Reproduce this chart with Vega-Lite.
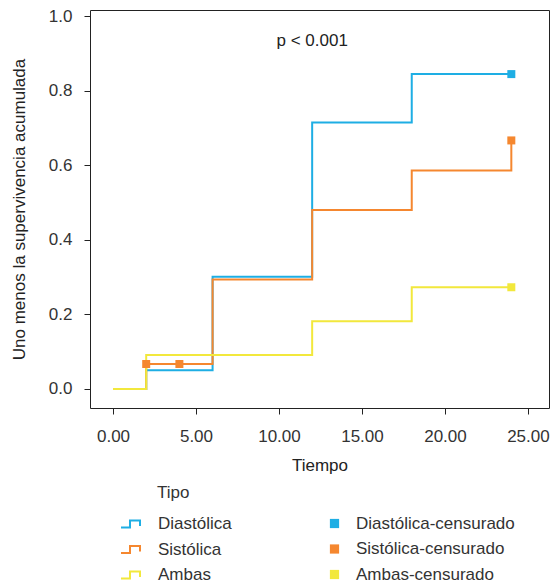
{
  "$schema": "https://vega.github.io/schema/vega-lite/v6.json",
  "width": 459,
  "height": 398,
  "autosize": {"type": "none"},
  "padding": {"left": 90, "top": 10, "right": 1, "bottom": 176},
  "background": "white",
  "config": {
    "font": "Liberation Sans",
    "view": {"stroke": "#222222", "strokeWidth": 1},
    "axis": {
      "grid": false,
      "domain": false,
      "tickColor": "#222222",
      "tickSize": 6,
      "labelFont": "Liberation Sans",
      "labelFontSize": 17,
      "labelColor": "#333333",
      "titleFont": "Liberation Sans",
      "titleFontSize": 17,
      "titleFontWeight": "normal",
      "titleColor": "#222222"
    },
    "legend": {
      "padding": 0,
      "labelFont": "Liberation Sans",
      "labelFontSize": 17,
      "labelColor": "#333333",
      "titleFont": "Liberation Sans",
      "titleFontSize": 17,
      "titleFontWeight": "normal",
      "titleColor": "#333333"
    }
  },
  "datasets": {
    "curvas": [
      {"tipo": "Diastólica", "tiempo": 0, "valor": 0},
      {"tipo": "Diastólica", "tiempo": 2, "valor": 0.05},
      {"tipo": "Diastólica", "tiempo": 6, "valor": 0.301},
      {"tipo": "Diastólica", "tiempo": 12, "valor": 0.715},
      {"tipo": "Diastólica", "tiempo": 18, "valor": 0.845},
      {"tipo": "Diastólica", "tiempo": 24, "valor": 0.845},
      {"tipo": "Sistólica", "tiempo": 0, "valor": 0},
      {"tipo": "Sistólica", "tiempo": 2, "valor": 0.067},
      {"tipo": "Sistólica", "tiempo": 4, "valor": 0.067},
      {"tipo": "Sistólica", "tiempo": 6, "valor": 0.294},
      {"tipo": "Sistólica", "tiempo": 12, "valor": 0.48},
      {"tipo": "Sistólica", "tiempo": 18, "valor": 0.586},
      {"tipo": "Sistólica", "tiempo": 24, "valor": 0.667},
      {"tipo": "Ambas", "tiempo": 0, "valor": 0},
      {"tipo": "Ambas", "tiempo": 2, "valor": 0.091},
      {"tipo": "Ambas", "tiempo": 12, "valor": 0.182},
      {"tipo": "Ambas", "tiempo": 18, "valor": 0.273},
      {"tipo": "Ambas", "tiempo": 24, "valor": 0.273}
    ],
    "censura": [
      {"grupo": "Diastólica-censurado", "tiempo": 24, "valor": 0.845},
      {"grupo": "Sistólica-censurado", "tiempo": 2, "valor": 0.067},
      {"grupo": "Sistólica-censurado", "tiempo": 4, "valor": 0.067},
      {"grupo": "Sistólica-censurado", "tiempo": 24, "valor": 0.667},
      {"grupo": "Ambas-censurado", "tiempo": 24, "valor": 0.273}
    ],
    "nota": [
      {"tiempo": 12, "valor": 0.934, "texto": "p < 0.001"}
    ]
  },
  "encoding": {
    "x": {
      "field": "tiempo",
      "type": "quantitative",
      "scale": {"domain": [-1.386, 26.27], "nice": false, "zero": false},
      "axis": {
        "values": [0, 5, 10, 15, 20, 25],
        "format": ".2f",
        "title": "Tiempo",
        "labelPadding": 14,
        "titlePadding": 13
      }
    },
    "y": {
      "field": "valor",
      "type": "quantitative",
      "scale": {"domain": [-0.051, 1.017], "nice": false, "zero": false},
      "axis": {
        "values": [0, 0.2, 0.4, 0.6, 0.8, 1.0],
        "format": ".1f",
        "title": "Uno menos la supervivencia acumulada",
        "labelPadding": 12,
        "titlePadding": 20
      }
    }
  },
  "layer": [
    {
      "data": {"name": "curvas"},
      "mark": {"type": "line", "interpolate": "step-after", "strokeWidth": 2},
      "encoding": {
        "stroke": {
          "field": "tipo",
          "type": "nominal",
          "sort": null,
          "scale": {
            "domain": ["Diastólica", "Sistólica", "Ambas"],
            "range": ["#1eaee4", "#f5872f", "#f2e83c"]
          },
          "legend": {
            "title": "Tipo",
            "orient": "none",
            "legendX": 30,
            "legendY": 475,
            "direction": "vertical",
            "symbolType": "M-1,0.35H-0.1V-0.35H0.9V0.2",
            "symbolSize": 400,
            "symbolStrokeWidth": 2,
            "symbolFillColor": "transparent",
            "labelOffset": 16,
            "titlePadding": 11,
            "rowPadding": 6.5,
            "encode": {
              "title": {"update": {"dx": {"value": 37}}}
            }
          }
        }
      }
    },
    {
      "data": {"name": "censura"},
      "mark": {"type": "square", "size": 64, "opacity": 1},
      "encoding": {
        "fill": {
          "field": "grupo",
          "type": "nominal",
          "scale": {
            "domain": ["Diastólica-censurado", "Sistólica-censurado", "Ambas-censurado"],
            "range": ["#1eaee4", "#f5872f", "#f2e83c"]
          },
          "legend": {
            "title": null,
            "orient": "none",
            "legendX": 236,
            "legendY": 505,
            "direction": "vertical",
            "symbolType": "square",
            "symbolSize": 85,
            "symbolOpacity": 1,
            "symbolStrokeWidth": 0,
            "labelOffset": 13,
            "rowPadding": 7.5
          }
        }
      }
    },
    {
      "data": {"name": "nota"},
      "mark": {"type": "text", "fontSize": 17, "color": "#222222", "align": "center", "baseline": "middle"},
      "encoding": {
        "text": {"field": "texto", "type": "nominal"}
      }
    }
  ]
}
